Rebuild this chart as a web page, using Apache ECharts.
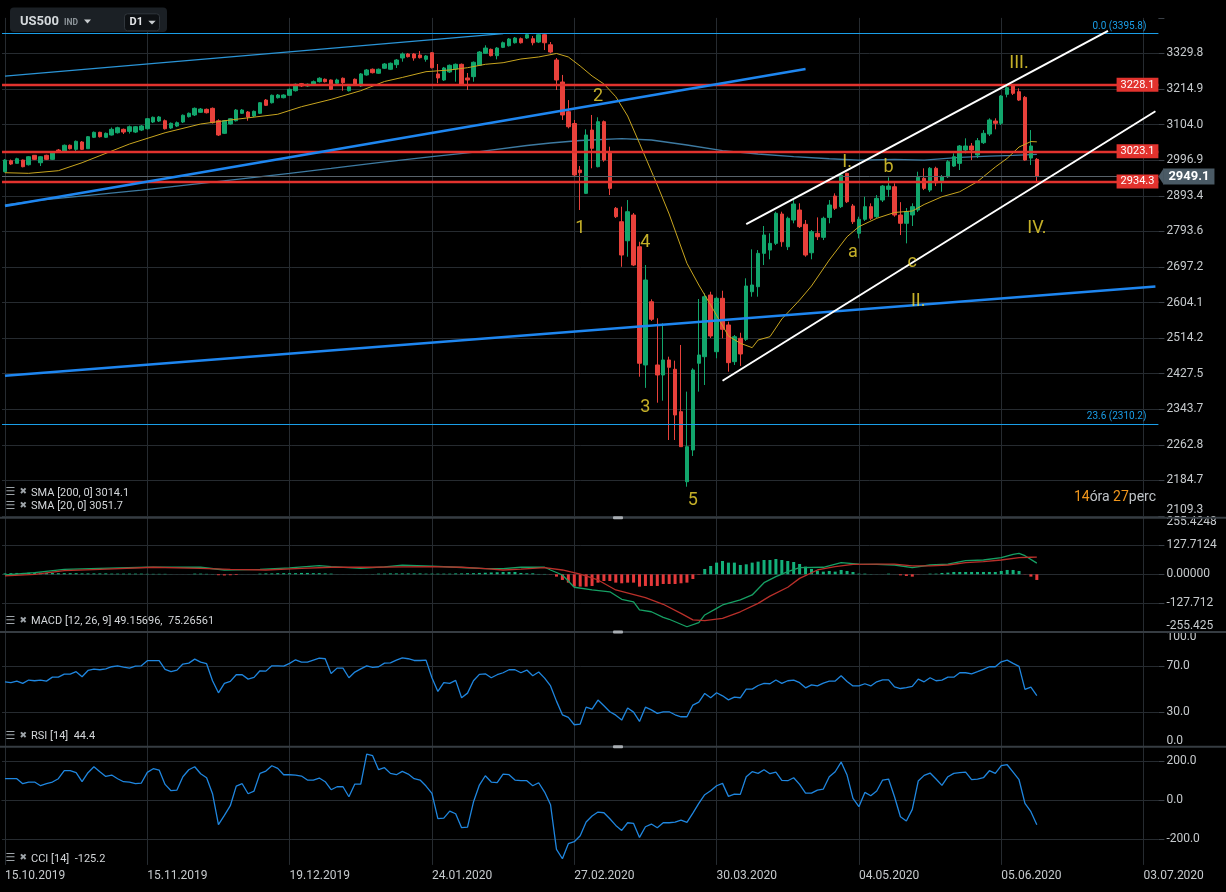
<!DOCTYPE html>
<html><head><meta charset="utf-8">
<script src="https://cdn.jsdelivr.net/npm/echarts@6/dist/echarts.min.js"></script>
<style>html,body{margin:0;padding:0;background:#000;}#c{width:1226px;height:892px;}</style>
</head><body><div id="c"></div>
<script>
// ---------- tick labels ----------
const priceTicks = [2109.3, 2184.7, 2262.8, 2343.7, 2427.5, 2514.2, 2604.1, 2697.2, 2793.6, 2893.4, 2996.9, 3104.0, 3214.9, 3329.8];
const macdTickLabels = ['-255.425', '-127.712', '0.00000', '127.7124', '255.4248'];
const rsiTicks = [0, 30, 70, 100];
const cciTicks = [-200, 0, 200];
const xTickLabels = ['15.10.2019', '15.11.2019', '19.12.2019', '24.01.2020', '27.02.2020', '30.03.2020', '04.05.2020', '05.06.2020', '03.07.2020'];

// ---------- candles (US500, D1) ----------
const opens = [2963.0,2995.2,2987.6,2997.3,2983.5,3011.4,2989.4,3011.4,2999.4,3027.1,
3023.2,3041.3,3029.2,3051.2,3031.0,3065.4,3080.5,3065.4,3072.3,3079.2,
3089.6,3083.4,3081.3,3087.4,3091.4,3112.0,3115.1,3116.0,3093.6,3099.7,
3112.0,3128.4,3133.7,3142.0,3151.2,3154.3,3116.0,3077.4,3105.9,3116.0,
3138.9,3142.9,3130.5,3138.9,3180.2,3171.8,3187.5,3187.5,3195.1,3209.7,
3232.1,3224.7,3231.0,3238.4,3246.1,3243.8,3233.4,3249.3,3209.7,3246.1,
3224.7,3259.9,3278.3,3265.4,3281.5,3278.3,3293.2,3315.0,3328.1,3328.1,
3324.8,3310.7,3332.3,3263.2,3243.8,3269.6,3279.2,3294.4,3250.3,3254.5,
3291.1,3330.4,3343.4,3322.6,3350.0,3355.4,3365.3,3378.7,3381.0,3378.7,
3367.6,3392.1,3358.6,3308.4,3237.4,3143.8,3107.4,2968.0,2900.4,3087.4,
2977.7,3113.0,3022.1,2857.9,2820.3,2767.8,2839.1,2751.5,2448.4,2606.1,
2448.4,2424.3,2460.5,2438.0,2338.1,2181.9,2251.3,2452.5,2468.5,2623.5,
2480.7,2614.9,2547.0,2456.4,2513.7,2511.2,2632.0,2645.1,2733.6,2742.5,
2760.7,2841.8,2751.5,2825.0,2853.1,2813.1,2735.2,2788.2,2777.2,2832.4,
2892.7,2862.5,2958.3,2864.4,2788.2,2827.0,2862.5,2834.3,2881.3,2911.8,
2919.4,2839.1,2815.9,2839.1,2853.1,2943.7,2909.8,2973.0,2936.7,2948.4,
2979.7,2987.6,3027.1,3039.2,3012.2,3049.1,3075.3,3115.1,3108.0,3198.2,
3224.7,3206.5,3188.7,3003.2,2999.4];
const closes = [2997.3,2985.6,3001.2,2977.7,3007.2,2999.4,3007.2,2999.4,3019.1,3021.1,
3041.3,3031.0,3053.3,3029.2,3067.2,3080.5,3067.2,3077.4,3089.6,3094.5,
3081.3,3097.6,3097.6,3099.8,3122.2,3126.5,3127.4,3091.4,3108.0,3109.9,
3132.8,3138.9,3154.3,3152.1,3140.7,3109.9,3072.3,3116.0,3122.2,3149.0,
3149.0,3127.4,3145.0,3171.8,3163.7,3195.1,3196.0,3196.0,3214.1,3230.1,
3224.7,3230.1,3238.4,3249.3,3238.4,3214.1,3243.8,3235.2,3222.4,3231.0,
3263.2,3276.0,3267.3,3278.3,3295.4,3297.7,3308.4,3328.1,3319.3,3315.0,
3316.0,3321.6,3283.5,3250.3,3282.5,3291.1,3294.4,3227.9,3243.8,3301.0,
3334.6,3347.7,3322.6,3347.7,3365.3,3377.7,3381.0,3365.3,3392.1,3365.3,
3392.1,3365.3,3334.6,3243.8,3133.7,3097.6,2953.4,2960.1,3072.3,3032.2,
3113.0,2997.3,2914.7,2834.3,2729.1,2848.3,2702.3,2452.5,2662.6,2561.4,
2424.3,2460.5,2442.8,2330.5,2258.7,2258.7,2436.3,2472.6,2619.1,2519.4,
2614.9,2536.1,2454.0,2517.7,2475.1,2646.9,2649.5,2733.6,2783.5,2760.7,
2843.8,2765.0,2829.8,2870.0,2806.5,2729.1,2792.6,2778.8,2829.8,2867.2,
2857.9,2953.4,2876.5,2820.3,2827.0,2862.5,2829.8,2886.1,2921.4,2921.4,
2839.1,2815.9,2848.3,2862.5,2946.6,2914.7,2973.0,2930.9,2948.4,2992.3,
3007.2,3039.2,3039.2,3027.1,3055.1,3077.4,3118.2,3108.0,3192.9,3219.2,
3201.4,3180.2,2997.3,3039.2,2949.1];
const lows = [2960.7,2982.6,2986.7,2975.9,2981.2,2997.3,2979.7,2997.3,2997.3,3019.1,
3021.1,3028.6,3024.1,3027.1,3030.1,3063.2,3064.8,3063.2,3070.8,3076.8,
3075.3,3076.8,3078.3,3084.4,3089.0,3108.9,3112.0,3089.0,3090.5,3096.6,
3108.9,3125.9,3130.5,3139.8,3138.3,3107.4,3069.3,3075.3,3103.7,3113.6,
3136.7,3116.0,3127.4,3136.7,3161.5,3169.3,3184.9,3185.6,3192.9,3207.1,
3221.5,3221.5,3228.8,3235.8,3235.8,3211.9,3231.0,3209.7,3207.1,3227.9,
3221.5,3257.7,3264.8,3263.2,3279.2,3276.0,3282.5,3302.9,3316.6,3306.1,
3313.3,3302.9,3280.8,3233.4,3240.6,3266.3,3238.4,3224.7,3211.9,3238.4,
3288.8,3328.1,3320.0,3310.7,3347.7,3352.7,3362.6,3362.6,3377.7,3356.7,
3364.3,3341.1,3330.4,3211.9,3118.2,3092.6,2948.4,2853.1,2898.4,2973.0,
2975.9,2992.3,2895.5,2830.6,2697.6,2724.5,2699.5,2420.2,2393.7,2557.1,
2358.9,2363.6,2273.6,2273.6,2258.0,2171.2,2238.1,2384.8,2400.5,2514.5,
2464.6,2513.7,2432.2,2448.4,2446.0,2507.0,2619.1,2619.1,2702.3,2717.6,
2756.1,2751.5,2742.5,2815.9,2802.8,2724.5,2717.6,2769.7,2769.7,2815.9,
2853.1,2858.7,2872.8,2813.9,2774.4,2822.3,2825.0,2830.6,2875.7,2890.7,
2834.3,2783.5,2760.7,2808.4,2847.5,2909.8,2904.1,2921.4,2905.0,2944.6,
2976.8,2968.0,3017.3,2997.3,3003.2,3045.2,3069.3,3089.6,3102.8,3188.7,
3196.0,3177.1,2995.2,2982.6,2934.3];
const highs = [3000.3,2998.8,3004.2,2998.8,3009.3,3012.3,3009.3,3013.2,3022.1,3030.1,
3043.7,3043.7,3055.7,3054.2,3069.3,3082.9,3082.3,3079.9,3095.1,3097.6,
3092.0,3101.3,3099.8,3102.8,3124.4,3129.0,3130.5,3119.7,3110.5,3113.6,
3135.3,3141.3,3156.9,3155.3,3153.7,3156.9,3120.3,3118.2,3124.4,3152.1,
3152.1,3146.0,3147.5,3174.0,3183.4,3197.6,3199.2,3198.2,3216.6,3232.7,
3234.3,3232.7,3242.2,3252.6,3248.7,3245.4,3248.0,3251.9,3227.9,3248.7,
3266.3,3279.2,3280.8,3280.8,3298.7,3300.3,3311.7,3333.0,3331.4,3331.4,
3337.8,3324.8,3334.6,3295.4,3285.8,3293.6,3297.0,3297.0,3266.3,3303.6,
3337.8,3356.7,3346.1,3351.1,3369.3,3381.0,3384.4,3382.7,3394.5,3387.7,
3393.8,3395.8,3367.6,3315.0,3260.0,3180.2,3118.2,2979.7,3089.6,3133.7,
3126.6,3116.7,3037.1,2861.6,2862.5,2881.3,2844.7,2765.0,2702.3,2612.3,
2564.0,2551.2,2468.5,2458.8,2497.2,2384.8,2440.4,2613.1,2627.9,2632.0,
2619.1,2634.6,2555.3,2521.9,2527.6,2667.1,2744.4,2742.5,2808.4,2788.2,
2848.3,2848.3,2834.3,2881.3,2872.0,2825.0,2797.3,2832.4,2834.3,2881.3,
2900.4,2958.3,2960.1,2870.0,2834.3,2890.7,2872.0,2895.5,2924.3,2946.6,
2929.2,2875.3,2858.7,2872.0,2963.0,2973.0,2976.8,2977.7,2953.4,2997.3,
3017.3,3042.2,3062.3,3048.2,3063.2,3087.4,3123.4,3123.4,3196.0,3231.0,
3231.0,3217.3,3192.9,3087.4,3003.2];

// ---------- moving averages [barIndex, price] ----------
const sma20 = [[0,2960.1],[4,2958.3],[9,2966.0],[13,2989.4],[16,3010.2],[21,3045.2],[27,3079.2],[33,3105.9],[38,3118.2],[46,3135.9],[50,3159.4],[55,3182.4],[60,3209.7],[64,3239.0],[67,3251.9],[71,3270.5],[75,3276.0],[78,3283.4],[81,3294.4],[84,3299.6],[87,3311.7],[90,3318.3],[93,3329.8],[95,3318.3],[97,3288.8],[99,3256.7],[101,3231.0],[103,3190.7],[105,3130.5],[107,3047.2],[110,2924.3],[112,2841.8],[115,2706.9],[117,2649.5],[119,2597.6],[122,2519.4],[124,2501.4],[126,2490.6],[127,2509.5],[129,2517.7],[131,2562.1],[134,2610.5],[136,2646.9],[139,2715.7],[142,2778.8],[144,2806.5],[147,2829.8],[150,2846.1],[153,2850.3],[155,2868.6],[158,2890.7],[161,2905.0],[164,2934.3],[167,2976.8],[169,3002.4],[171,3036.1],[173,3052.6],[174,3051.7]];
const sma200 = [[0,2867.2],[6,2881.3],[23,2909.8],[38,2938.7],[48,2958.3],[55,2973.0],[63,2990.0],[72,3007.2],[80,3022.1],[88,3040.7],[92,3048.2],[97,3055.7],[104,3061.2],[109,3057.2],[115,3042.2],[121,3025.6],[127,3015.2],[133,3007.2],[139,3001.2],[144,2997.3],[150,2999.4],[155,2997.3],[161,3005.2],[166,3009.1],[170,3011.1],[174,3014.1]];

// ---------- MACD ----------
const macdLine = [[0,-3],[5,7],[10,22],[16,26],[24,31],[33,31],[37,19],[43,22],[48,28],[53,38],[55,34],[60,26],[64,33],[67,40],[72,36],[77,30],[81,25],[84,25],[87,31],[91,31],[92,19],[94,-3],[96,-57],[99,-69],[102,-77],[104,-110],[106,-121],[107,-157],[109,-165],[111,-190],[112,-198],[115,-231],[117,-213],[118,-179],[120,-150],[121,-135],[124,-113],[126,-91],[128,-37],[130,-10],[132,12],[134,29],[138,31],[141,51],[144,45],[147,44],[150,41],[153,29],[156,41],[159,45],[162,60],[165,63],[168,73],[170,88],[171,92],[172,82],[174,49.16]];
const signalLine = [[0,-7],[5,0],[10,16],[16,22],[25,31],[33,26],[38,22],[44,19],[50,26],[55,31],[61,31],[67,33],[72,34],[77,31],[81,25],[84,19],[87,23],[91,29],[94,19],[97,1],[100,-25],[103,-69],[108,-103],[111,-132],[114,-172],[116,-201],[118,-204],[121,-194],[124,-165],[127,-128],[129,-96],[132,-57],[134,-18],[137,19],[140,34],[143,44],[147,45],[150,45],[153,37],[156,37],[159,41],[162,51],[165,56],[168,63],[171,73],[173,75],[174,75.27]];
const macdHist = [4,5,6,6,7,7,7,6,6,5,5,5,5,4,4,4,4,4,3,3,3,3,3,3,2,2,2,2,
0.5,0.3,0.3,0.5, 3,3,2,1, -4,-5,-4,-3, 0.3,0.3,0.5,
3,4,4,5,5,5,5,6,6,5,5,4,3, 0.5,0.3,0.3,0.3,0.3,0.5,1,
3,3,4,4,4,4,4,4,3,3,3,3,3,4,4,5,5,6,7,8,9,
10.3,10.3,10.3,5.9,4.4,4.4,1.5,1.5,-1,-10.3,
-24.9,-36.7,-54.3,-54.3,-54.3,-51.4,-36.7,-29.4,-29.4,-36.7,
-39.6,-36.7,-36.7,-54.3,-51.4,-51.4,-51.4,-42.6,-42.6,-42.6,
-39.6,-36.7,-20.6,-2,23.5,36.7,51.4,58.7,51.4,51.4,
41.1,44.0,51.4,55.8,63.1,63.1,67.5,63.1,58.7,54.3,
45.5,33.8,23.5,16.1,11.7,14.7,11.7,19.1,14.7,10.3,
2.9,2.9,1,0.5,0.5,2.9,0.3,-4.4,-7.3,-10.3,
-1,0.5,2.9,2.9,5.9,7.3,10.3,10.3,10.3,10.3,
10.3,10.3,10.3,10.3,14.7,19.1,19.1,14.7,-1,-10.3,
-24.9];

// ---------- RSI(14) / CCI(14) ----------
const rsi = [56.4,55.6,57.0,55.0,57.9,57.3,57.9,57.0,60.4,60.4,
63.0,63.0,65.1,60.7,66.2,67.4,66.8,67.6,69.4,70.2,
69.1,68.2,69.9,70.2,74.6,74.6,74.6,67.1,65.1,66.5,
71.7,72.5,76.0,73.4,72.0,57.3,46.9,55.0,56.7,62.5,
62.5,58.7,60.2,65.9,65.6,70.2,70.2,69.9,72.3,75.4,
73.4,73.4,75.1,76.8,76.3,63.6,68.2,68.2,59.9,64.8,
67.6,70.2,68.8,69.4,72.5,72.8,75.1,77.1,76.3,74.8,
74.8,75.1,59.9,48.1,55.6,55.0,57.6,42.6,46.6,57.3,
62.8,63.3,59.9,62.5,64.2,66.8,66.8,64.2,66.5,61.6,
64.8,59.6,52.8,39.7,27.9,25.6,19.3,19.9,34.5,32.8,
40.6,35.7,30.5,27.6,23.3,33.7,30.2,22.2,34.5,32.1,
29.1,30.5,30.5,27.9,26.2,26.2,36.3,38.9,46.3,42.6,
46.9,44.3,40.8,43.2,42.6,50.1,50.1,53.2,55.0,54.7,
57.9,55.0,57.3,57.9,55.6,51.2,53.8,52.8,55.3,57.0,
57.0,61.6,56.7,52.8,52.8,54.7,52.8,56.4,58.1,58.1,
52.0,50.6,51.4,52.4,58.7,56.4,59.9,57.3,57.9,60.4,
60.4,64.2,64.2,63.3,65.1,67.1,69.4,69.4,73.7,75.1,
72.3,69.7,49.8,51.8,44.4];
const cci = [108.6,108.6,108.6,83.1,91.6,91.6,72.9,83.1,91.6,108.6,
149.3,149.3,139.1,93.3,139.1,169.6,144.2,120.4,127.2,108.6,
93.3,91.6,83.1,86.5,140.8,159.5,152.7,79.7,47.5,50.9,
118.7,154.4,169.6,134.0,113.7,32.2,-125.5,-78.0,-28.8,71.2,
83.1,32.2,45.8,135.7,147.6,174.7,161.2,128.9,128.9,127.2,
122.1,101.8,101.8,112.0,93.3,52.6,67.8,67.8,16.9,81.4,
81.4,234.1,225.6,154.4,164.5,135.7,128.9,145.9,132.3,108.6,
101.8,71.2,33.9,-95.0,-91.6,-56.0,-69.6,-140.8,-137.4,-10.2,
76.3,123.8,91.6,88.2,132.3,128.9,101.8,98.4,98.4,72.9,
88.2,40.7,-23.8,-251.1,-298.6,-222.2,-212.0,-181.5,-112.0,-81.4,
-61.1,-64.5,-95.0,-128.9,-154.4,-115.4,-118.7,-190.0,-135.7,-122.1,
-140.8,-115.4,-115.4,-112.0,-101.8,-113.7,-66.2,-16.9,27.1,47.5,
72.9,84.8,18.7,30.5,28.8,118.7,144.2,135.7,154.4,134.0,
142.5,100.1,98.4,113.7,79.7,35.6,35.6,50.9,56.0,118.7,
144.2,193.4,127.2,8.5,-33.9,39.0,22.0,45.8,101.8,106.9,
16.9,-84.8,-106.9,-47.5,96.7,125.5,137.4,106.9,74.6,118.7,
135.7,139.1,142.5,103.5,106.9,113.7,149.3,135.7,174.7,179.8,
142.5,103.5,-16.9,-59.4,-125.2];

// ---------- drawings: price levels and trend lines [barIndex, price] ----------
const redLevels = [3228.1, 3023.1, 2934.3];
const fibLevels = [3395.8, 2310.2];
const fibNames = ['0.0', '23.6'];
const lastPrice = 2949.1;
const blueThinLine = [[0, 3256.4], [84, 3395.8]];
const blueUpperLine = [[0, 2864.4], [135, 3279.0]];
const blueLowerLine = [[0, 2422.3], [194, 2645.8]];
const whiteUpperLine = [[125, 2813.6], [186, 3405.1]];
const whiteLowerLine = [[121, 2410.6], [194, 3145.3]];
const waveNames = ['1', '2', '3', '4', '5', 'I.', 'a', 'b', 'c', 'II.', 'III.', 'IV.'];
const waveBars = [97, 100, 108, 108, 116, 142, 143, 149, 153, 154, 171, 174];
const wavePrices = [2802.8, 3192.9, 2346.6, 2764.3, 2142.7, 2991.4, 2737.1, 2976.8, 2710.3, 2607.9, 3295.4, 2802.8];
const smaLast = {s200: 3014.1, s20: 3051.7};
const macdLast = ['49.15696', '75.26561'];

// ---------- build ----------
const N = 195, BARS_PER_TICK = 24;
const STEP = Math.log(priceTicks[priceTicks.length - 1] / priceTicks[0]) / (priceTicks.length - 1);
const toK = p => Math.log(p / priceTicks[0]) / STEP;
const cats = Array.from({length: N}, (_, i) => String(i));
const FONT = 'Roboto, "DejaVu Sans", sans-serif';
const AX = '#c6cacd', GRIDC = '#262b30', SEP = '#363c42', TICKC = '#3a4047';
const UP = '#12a66c', DN = '#e8413b', WAVE = '#f5db32';

const vGrid = [];
for (let i = 0; i < N; i += BARS_PER_TICK) vGrid.push({xAxis: i});

const gridDefs = [
  {left: 2, right: 67.6, top: 17.9, height: 498.1},
  {left: 2, right: 67.6, top: 516.3, height: 116},
  {left: 2, right: 67.6, top: 631.3, height: 115.8},
  {left: 2, right: 67.6, top: 747, height: 117.9}
];
const xAxes = gridDefs.map((g, gi) => ({
  type: 'category', gridIndex: gi, data: cats, boundaryGap: true,
  axisLine: {show: gi === 3, lineStyle: {color: SEP, width: 1}},
  axisTick: {show: false}, splitLine: {show: false},
  axisLabel: gi === 3 ? {
    show: true, interval: (i) => i % BARS_PER_TICK === 0,
    formatter: (v, i) => xTickLabels[Math.round(i / BARS_PER_TICK)] || '',
    align: 'left', color: AX, fontSize: 12, margin: 5, fontFamily: FONT
  } : {show: false}
}));
const lblBase = {color: AX, fontSize: 12, margin: 8, fontFamily: FONT};
const tickBase = {show: true, length: 6, lineStyle: {color: TICKC}};
const yAxes = [
  {type: 'value', gridIndex: 0, position: 'right', min: 0, max: 14, interval: 1,
    axisLine: {show: false}, axisTick: tickBase,
    splitLine: {show: true, showMaxLine: false, lineStyle: {color: GRIDC}},
    axisLabel: Object.assign({}, lblBase, {verticalAlignMinLabel: 'bottom',
      formatter: v => { const k = Math.round(v); return (Math.abs(v - k) < 1e-6 && k < priceTicks.length) ? priceTicks[k].toFixed(1) : ''; }})},
  {type: 'value', gridIndex: 1, position: 'right', min: -255.4248, max: 255.4248, interval: 127.7124,
    axisLine: {show: false}, axisTick: tickBase,
    splitLine: {show: true, lineStyle: {color: GRIDC}},
    axisLabel: Object.assign({}, lblBase, {verticalAlignMinLabel: 'bottom', verticalAlignMaxLabel: 'top',
      formatter: v => macdTickLabels[Math.round(v / 127.7124) + 2] || ''})},
  {type: 'value', gridIndex: 2, position: 'right', min: 0, max: 100,
    axisLine: {show: false}, axisTick: Object.assign({}, tickBase, {customValues: [30, 70]}),
    splitLine: {show: false},
    axisLabel: Object.assign({}, lblBase, {customValues: rsiTicks, verticalAlignMinLabel: 'bottom', verticalAlignMaxLabel: 'top',
      formatter: v => (+v).toFixed(1)})},
  {type: 'value', gridIndex: 3, position: 'right', min: -330, max: 270,
    axisLine: {show: false}, axisTick: Object.assign({}, tickBase, {customValues: cciTicks}),
    splitLine: {show: false},
    axisLabel: Object.assign({}, lblBase, {customValues: cciTicks, formatter: v => (+v).toFixed(1)})}
];

const gridMarkLine = (extra) => ({
  silent: true, z: 1, symbol: ['none', 'none'], animation: false,
  label: {show: false}, lineStyle: {color: GRIDC, width: 1, type: 'solid'},
  data: vGrid.concat(extra || [])
});

const line2 = (pts, color, width) => [
  {coord: [pts[0][0], toK(pts[0][1])], lineStyle: {color: color, width: width, type: 'solid'}},
  {coord: [pts[1][0], toK(pts[1][1])]}
];
const drawings = [];
redLevels.forEach(v => drawings.push({
  yAxis: toK(v), lineStyle: {color: '#e2332e', width: 2.4, type: 'solid'},
  label: {show: true, position: 'insideEnd', distance: 0, formatter: v.toFixed(1), backgroundColor: '#e2332e',
    color: '#ffffff', fontSize: 11, padding: [2, 4, 1, 4], fontFamily: FONT}
}));
fibLevels.forEach((v, i) => drawings.push({
  yAxis: toK(v), lineStyle: {color: '#1a9ee8', width: 1.2, type: 'solid'},
  label: {show: true, position: 'insideEndTop', distance: [12, 2], formatter: fibNames[i] + ' (' + v.toFixed(1) + ')',
    color: '#1a9ee8', fontSize: 10, fontFamily: FONT}
}));
drawings.push({
  yAxis: toK(lastPrice), lineStyle: {color: '#58626a', width: 1, type: 'solid'},
  label: {show: true, position: 'end', distance: 5, formatter: lastPrice.toFixed(1), backgroundColor: '#4a5a65',
    color: '#ffffff', fontWeight: 'bold', fontSize: 13, padding: [2, 5, 1, 5], fontFamily: FONT}
});
drawings.push(line2(blueThinLine, '#2a94d6', 1.3));
drawings.push(line2(blueUpperLine, '#1e86f0', 2.5));
drawings.push(line2(blueLowerLine, '#1e86f0', 2.5));
drawings.push(line2(whiteUpperLine, '#ffffff', 2));
drawings.push(line2(whiteLowerLine, '#ffffff', 2));

const waves = waveNames.map((n, i) => ({name: n, value: [waveBars[i], toK(wavePrices[i])]}));

// ---------- graphics (panel separators, header, legends) ----------
const gfx = [];
[517.7, 632.0, 746.7].forEach(y => {
  gfx.push({type: 'rect', silent: true, z: 50, shape: {x: 0, y: y - 1, width: 1226, height: 2}, style: {fill: SEP}});
  gfx.push({type: 'rect', silent: true, z: 51, shape: {x: 613, y: y - 1.5, width: 10, height: 3, r: 1}, style: {fill: '#a9aeb3'}});
});
gfx.push({type: 'rect', silent: true, z: 60, shape: {x: 10, y: 7.5, width: 157, height: 24.5, r: 4}, style: {fill: '#1b2025'}});
gfx.push({type: 'text', silent: true, z: 61, x: 20, y: 22, style: {text: 'US500', fill: '#d5d9dc', font: 'bold 13px Roboto', verticalAlign: 'middle', textVerticalAlign: 'middle'}});
gfx.push({type: 'text', silent: true, z: 61, x: 64, y: 22.5, style: {text: 'IND', fill: '#8d949a', font: 'bold 8.5px Roboto', verticalAlign: 'middle', textVerticalAlign: 'middle'}});
gfx.push({type: 'polygon', silent: true, z: 61, shape: {points: [[84, 19.5], [91, 19.5], [87.5, 23.5]]}, style: {fill: '#c9cdd0'}});
gfx.push({type: 'rect', silent: true, z: 61, shape: {x: 124.5, y: 13.8, width: 35, height: 17, r: 3}, style: {fill: '#0d1013', stroke: '#30363c', lineWidth: 1}});
gfx.push({type: 'text', silent: true, z: 62, x: 129.5, y: 22.7, style: {text: 'D1', fill: '#e3e5e7', font: 'bold 11px Roboto', verticalAlign: 'middle', textVerticalAlign: 'middle'}});
gfx.push({type: 'polygon', silent: true, z: 62, shape: {points: [[148.3, 20.7], [155.7, 20.7], [152, 24.5]]}, style: {fill: '#c9cdd0'}});

const legendRows = [
  [493.3, 'SMA [200, 0] ' + smaLast.s200.toFixed(1)],
  [506.7, 'SMA [20, 0] ' + smaLast.s20.toFixed(1)],
  [621.7, 'MACD [12, 26, 9] ' + macdLast[0] + ',  ' + macdLast[1]],
  [736.7, 'RSI [14]  ' + rsi[rsi.length - 1].toFixed(1)],
  [859.3, 'CCI [14]  ' + cci[cci.length - 1].toFixed(1)]
];
legendRows.forEach(([y, t]) => {
  gfx.push({type: 'text', silent: true, z: 61, x: 5.5, y: y - 1, style: {text: '\u2630', fill: '#9ea4a9', font: '11px "DejaVu Sans"', verticalAlign: 'middle', textVerticalAlign: 'middle'}});
  gfx.push({type: 'text', silent: true, z: 61, x: 19.5, y: y - 1.5, style: {text: '\u2716', fill: '#9ea4a9', font: '9px "DejaVu Sans"', verticalAlign: 'middle', textVerticalAlign: 'middle'}});
  gfx.push({type: 'text', silent: true, z: 61, x: 31, y: y, style: {text: t, fill: '#d3d6d9', font: '11px Roboto', verticalAlign: 'middle', textVerticalAlign: 'middle'}});
});
gfx.push({type: 'text', silent: true, z: 61, x: 1156, y: 497, style: {
  text: '{a|14}{b|óra} {a|27}{b|perc}', align: 'right', textAlign: 'right', verticalAlign: 'middle', textVerticalAlign: 'middle',
  rich: {a: {fill: '#f0961c', font: '14px Roboto'}, b: {fill: '#bfc3c7', font: '14px Roboto'}}}});

const option = {
  backgroundColor: '#000000',
  animation: false,
  textStyle: {fontFamily: FONT},
  grid: gridDefs,
  xAxis: xAxes,
  yAxis: yAxes,
  graphic: gfx,
  series: [
    {type: 'line', name: 'SMA200', xAxisIndex: 0, yAxisIndex: 0, z: 2, silent: true, symbol: 'none',
      data: sma200.map(([i, p]) => [i, toK(p)]), lineStyle: {color: '#3d7aa1', width: 1.3},
      markLine: gridMarkLine()},
    {type: 'candlestick', xAxisIndex: 0, yAxisIndex: 0, z: 3, silent: true, barWidth: 4,
      data: opens.map((o, i) => [toK(o), toK(closes[i]), toK(lows[i]), toK(highs[i])]),
      itemStyle: {color: UP, color0: DN, borderColor: UP, borderColor0: DN, borderWidth: 1}},
    {type: 'line', name: 'SMA20', xAxisIndex: 0, yAxisIndex: 0, z: 4, silent: true, symbol: 'none', clip: false,
      data: sma20.map(([i, p]) => [i, toK(p)]), lineStyle: {color: '#c8a51f', width: 1},
      markLine: {silent: true, z: 6, symbol: ['none', 'none'], animation: false, label: {show: false}, data: drawings}},
    {type: 'scatter', xAxisIndex: 0, yAxisIndex: 0, z: 7, silent: true, symbolSize: 1,
      itemStyle: {color: 'rgba(0,0,0,0)'}, data: waves,
      label: {show: true, position: 'inside', formatter: p => p.name, color: WAVE, fontSize: 18, fontFamily: FONT}},
    {type: 'bar', xAxisIndex: 1, yAxisIndex: 1, z: 2, silent: true, barWidth: 3, data: macdHist,
      itemStyle: {color: p => (p.value >= 0 ? '#13b07a' : '#e5393a')}, markLine: gridMarkLine()},
    {type: 'line', xAxisIndex: 1, yAxisIndex: 1, z: 3, silent: true, symbol: 'none', data: macdLine,
      lineStyle: {color: '#16a064', width: 1.3}},
    {type: 'line', xAxisIndex: 1, yAxisIndex: 1, z: 3, silent: true, symbol: 'none', data: signalLine,
      lineStyle: {color: '#b9302a', width: 1.3}},
    {type: 'line', xAxisIndex: 2, yAxisIndex: 2, z: 3, silent: true, symbol: 'none', data: rsi,
      lineStyle: {color: '#1f86df', width: 1.3}, markLine: gridMarkLine([{yAxis: 30}, {yAxis: 70}])},
    {type: 'line', xAxisIndex: 3, yAxisIndex: 3, z: 3, silent: true, symbol: 'none', data: cci,
      lineStyle: {color: '#1f86df', width: 1.3}, markLine: gridMarkLine([{yAxis: -200}, {yAxis: 0}, {yAxis: 200}])}
  ]
};
const chart = echarts.init(document.getElementById('c'), null, {width: 1226, height: 892});
chart.setOption(option);

// arrow tip of the current-price tag, placed through the price scale
const tagPt = chart.convertToPixel({gridIndex: 0}, [N - 1, toK(lastPrice)]);
if (tagPt) {
  const gr = chart.getModel().getComponent('grid', 0).coordinateSystem.getRect();
  const xr = gr.x + gr.width, y = tagPt[1];
  chart.setOption({graphic: gfx.concat([{type: 'polygon', silent: true, z: 70,
    shape: {points: [[xr, y], [xr + 5.5, y - 8.5], [xr + 5.5, y + 8.5]]}, style: {fill: '#4a5a65'}}])});
}
</script></body></html>
